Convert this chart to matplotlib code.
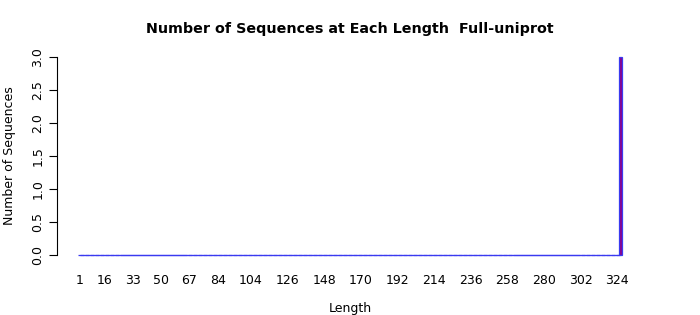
import matplotlib
matplotlib.use('Agg')
import matplotlib.pyplot as plt
import numpy as np

# sequence lengths 1..326, only the last length has any sequences
lengths = list(range(1, 327))
counts = [0] * 325 + [3]
shown_labels = [1, 16, 33, 50, 67, 84, 104, 126, 148, 170, 192, 214, 236, 258, 280, 302, 324]
y_ticks = [0.0, 0.5, 1.0, 1.5, 2.0, 2.5, 3.0]

plt.rcParams['font.family'] = 'DejaVu Sans'

fig = plt.figure(figsize=(7, 3.15), dpi=100)
ax = fig.add_axes([57 / 700, 52 / 315, 586 / 700, 214 / 315])

# R-style barplot positions: 1.2 units per bar
centers = 0.7 + 1.2 * np.arange(len(lengths))
# bars drawn a bit wider so the zero-height borders join into one baseline
ax.bar(centers, counts, width=2.2, color='#8B008B', edgecolor='#3A3AF0', linewidth=0.9)

x_lo, x_hi = 0.2, centers[-1] + 0.5
pad = 0.04 * (x_hi - x_lo)
ax.set_xlim(x_lo - pad, x_hi + pad)
ax.set_ylim(-0.12, 3.12)

pos = {ln: c for ln, c in zip(lengths, centers)}
ax.set_xticks([pos[v] for v in shown_labels])
ax.set_xticklabels([str(v) for v in shown_labels], fontsize=9)
ax.tick_params(axis='x', length=0, pad=8)

ax.set_yticks(y_ticks)
ax.set_yticklabels([f'{v:.1f}' for v in y_ticks], fontsize=9, rotation=90, va='center')
ax.tick_params(axis='y', length=6, width=0.8, pad=3)

for side in ['top', 'right', 'bottom']:
    ax.spines[side].set_visible(False)
ax.spines['left'].set_bounds(0, 3)
ax.spines['left'].set_linewidth(0.8)

ax.set_xlabel('Length', fontsize=9, labelpad=11)
ax.set_ylabel('Number of Sequences', fontsize=9, labelpad=11)
fig.text(0.5, 1 - 29 / 315, 'Number of Sequences at Each Length  Full-uniprot',
         ha='center', va='center', fontsize=10.3, fontweight='bold')

fig.savefig('out.png', dpi=100)
